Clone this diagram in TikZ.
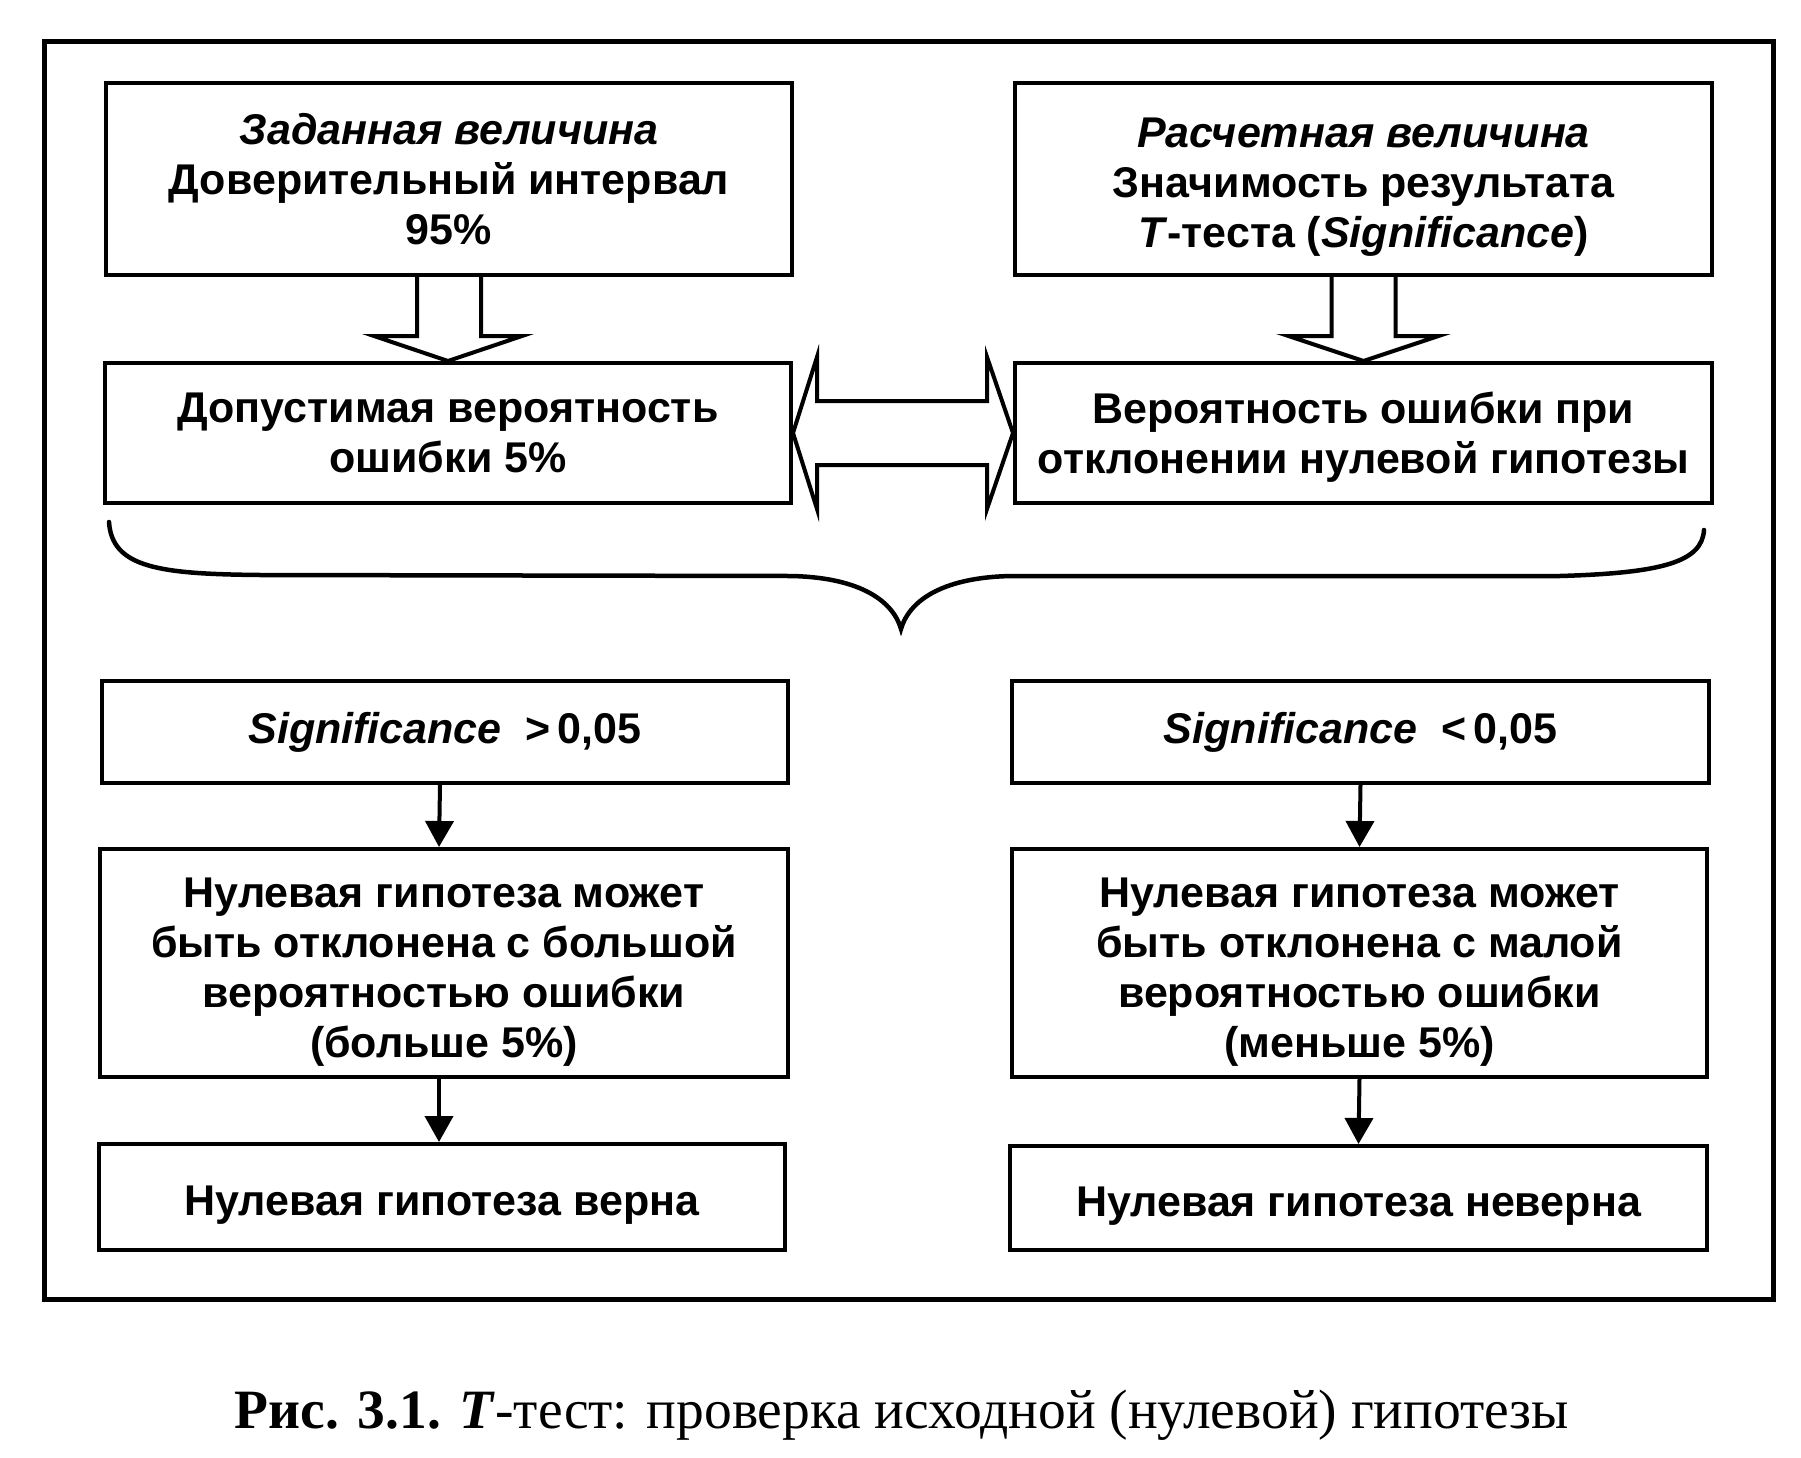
\documentclass[tikz,border=0pt]{standalone}
\usepackage{fontspec}
\setmainfont{Liberation Serif}
\setsansfont{Liberation Sans}
\usetikzlibrary{calc,arrows.meta}
\newcommand\topstrut[1]{\rule{0pt}{#1pt}}
\begin{document}
\begin{tikzpicture}[x=1pt,y=-1pt,
  box/.style={draw,line width=4pt,align=center,inner sep=0pt,
    font=\sffamily\bfseries\fontsize{43}{50}\selectfont},
  sigbox/.style={box},
  blockarrow/.style={draw,line width=4pt,line join=miter,fill=white},
  smallarrow/.style={draw,line width=4pt,-{Triangle[width=28pt,length=26pt]}},
  framestyle/.style={draw,line width=5pt},
  bracestyle/.style={draw,line width=4.5pt,line cap=round}]
\useasboundingbox (0,0) rectangle (1801,1458);
\fill[white] (0,0) rectangle (1801,1458);
\draw[framestyle] (44,42) rectangle (1773,1299);

\node[box,minimum width=686pt,minimum height=192pt] (b1) at (449,179)
  {\textit{Заданная величина}\\Доверительный интервал\\95\%};
\node[box,minimum width=697pt,minimum height=192pt] (b2) at (1363.5,179)
  {\topstrut{45}\textit{Расчетная величина}\\Значимость результата\\\textit{T}-теста (\textit{Significance})};
\node[box,minimum width=686pt,minimum height=140pt] (b3) at (448,433)
  {Допустимая вероятность\\ошибки 5\%};
\node[box,minimum width=697pt,minimum height=140pt] (b4) at (1363.5,433)
  {\topstrut{40}Вероятность ошибки при\\отклонении нулевой гипотезы};
\node[sigbox,minimum width=686pt,minimum height=102pt] (b5) at (445,732)
  {\textit{Significance}\ \ >\,0,05};
\node[sigbox,minimum width=697pt,minimum height=102pt] (b6) at (1360.5,732)
  {\textit{Significance}\ \ <\,0,05};
\node[box,minimum width=688pt,minimum height=228pt] (b7) at (444,963)
  {\topstrut{47}Нулевая гипотеза может\\быть отклонена с большой\\вероятностью ошибки\\(больше 5\%)};
\node[box,minimum width=695pt,minimum height=228pt] (b8) at (1359.5,963)
  {\topstrut{47}Нулевая гипотеза может\\быть отклонена с малой\\вероятностью ошибки\\(меньше 5\%)};
\node[box,minimum width=686pt,minimum height=106pt] (b9) at (442,1197)
  {\topstrut{46}Нулевая гипотеза верна};
\node[box,minimum width=697pt,minimum height=104pt] (b10) at (1358.5,1198)
  {\topstrut{45}Нулевая гипотеза неверна};

% hollow block arrows (down)
\draw[blockarrow] ($(b1.south)+(-32,0)$) |- ($(b3.north)+(-74,-25)$) -- (b3.north)
  -- ($(b3.north)+(74,-25)$) -| ($(b1.south)+(32,0)$);
\draw[blockarrow] ($(b2.south)+(-32,0)$) |- ($(b4.north)+(-75,-25)$) -- (b4.north)
  -- ($(b4.north)+(75,-25)$) -| ($(b2.south)+(32,0)$);

% double block arrow
\draw[blockarrow] (b3.east) -- ++(24,-76) -- ++(0,44) -- ($(b4.west)+(-26,-32)$)
  -- ++(0,-44) -- (b4.west) -- ++(-26,76) -- ++(0,-44) -- ($(b3.east)+(24,32)$)
  -- ++(0,44) -- cycle;

% brace
\draw[bracestyle] (109,522) .. controls (112,568) and (160,574) .. (260,575)
  -- (790,576) .. controls (855,577) and (892,598) .. (901,629)
  .. controls (910,598) and (947,577) .. (1012,576)
  -- (1560,576) .. controls (1662,573) and (1702,562) .. (1704,530);

% small arrows
\draw[smallarrow] ($(b5.south)+(-5,0)$) -- ($(b7.north)+(-5,0)$);
\draw[smallarrow] ($(b7.south)+(-5,0)$) -- ($(b9.north)+(-3,0)$);
\draw[smallarrow] (b6.south) -- (b8.north);
\draw[smallarrow] (b8.south) -- (b10.north);

\node[anchor=base,font=\fontsize{55.5}{60}\selectfont] (cap) at (902,1428)
  {\textbf{Рис. 3.1.} \textbf{\textit{T}}-тест: проверка исходной (нулевой) гипотезы};
\end{tikzpicture}
\end{document}
